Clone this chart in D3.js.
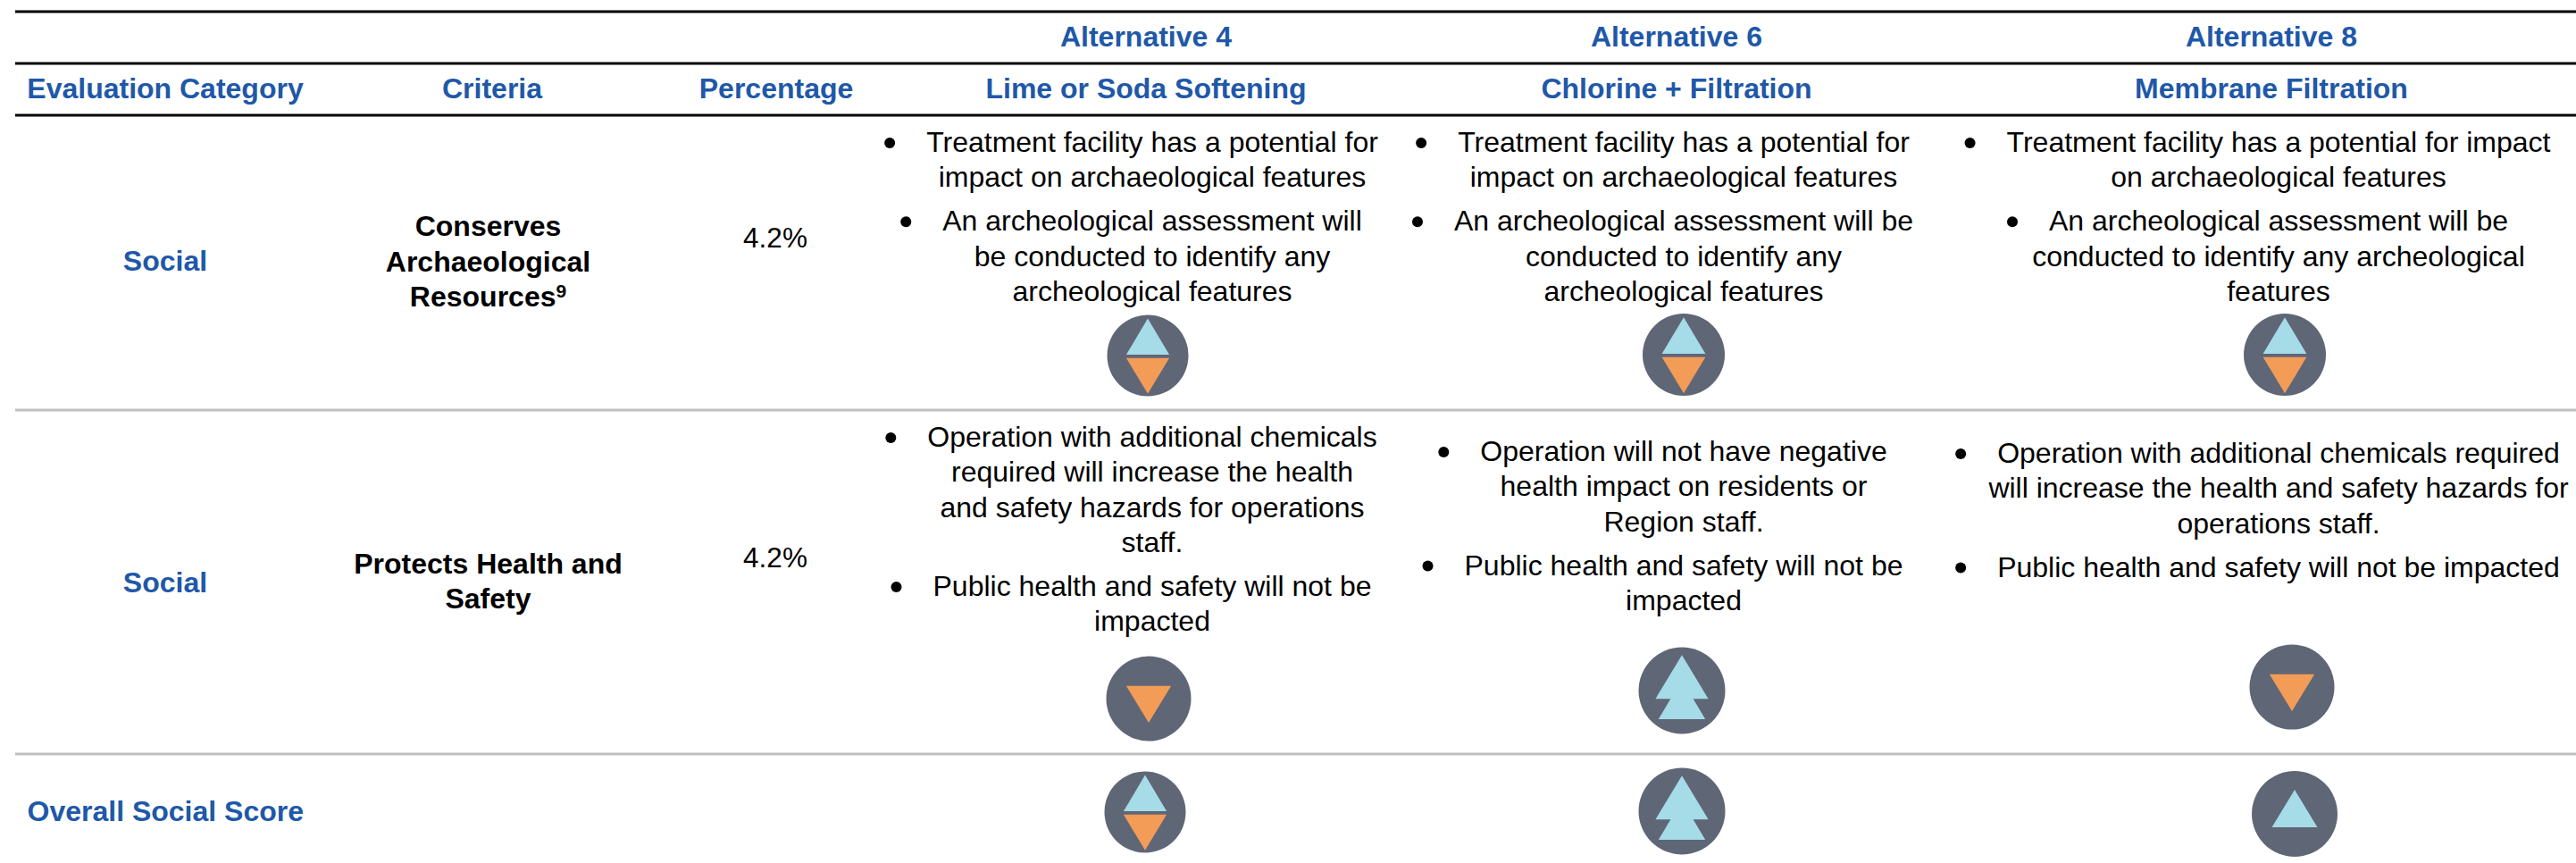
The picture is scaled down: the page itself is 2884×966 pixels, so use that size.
<!DOCTYPE html>
<html>
<head>
<meta charset="utf-8">
<title>Social evaluation table</title>
<script src="https://cdn.jsdelivr.net/npm/d3@7"></script>
<style>
  html, body { margin: 0; background: #fff; }
  svg { display: block; }
  text { font-family: "Liberation Sans", Arial, sans-serif; }
</style>
</head>
<body>
<div id="chart"></div>
<script>
// Table content
var alternatives = ["Alternative 4", "Alternative 6", "Alternative 8"];
var treatments = ["Lime or Soda Softening", "Chlorine + Filtration", "Membrane Filtration"];
var headers = ["Evaluation Category", "Criteria", "Percentage"];
var rows = ["archaeology", "health", "overall"];
var categories = ["Social", "Social"];
var criteria = [["Conserves", "Archaeological", "Resources"], ["Protects Health and", "Safety"]];
var percentages = ["4.2%", "4.2%"];
var overallLabel = "Overall Social Score";

// one list per cell, one list per bullet, one string per line
var archaeologyText = [
  [["Treatment facility has a potential for", "impact on archaeological features"],
   ["An archeological assessment will", "be conducted to identify any", "archeological features"]],
  [["Treatment facility has a potential for", "impact on archaeological features"],
   ["An archeological assessment will be", "conducted to identify any", "archeological features"]],
  [["Treatment facility has a potential for impact", "on archaeological features"],
   ["An archeological assessment will be", "conducted to identify any archeological", "features"]]
];
var healthText = [
  [["Operation with additional chemicals", "required will increase the health", "and safety hazards for operations", "staff."],
   ["Public health and safety will not be", "impacted"]],
  [["Operation will not have negative", "health impact on residents or", "Region staff."],
   ["Public health and safety will not be", "impacted"]],
  [["Operation with additional chemicals required", "will increase the health and safety hazards for", "operations staff."],
   ["Public health and safety will not be impacted"]]
];

// score per alternative: mixed, down, up, doubleUp
var archaeologyScores = ["mixed", "mixed", "mixed"];
var healthScores = ["down", "doubleUp", "down"];
var overallScores = ["mixed", "doubleUp", "up"];

// Layout
var width = 2884, height = 966;
var blue = "#2058a8", circleGrey = "#5f6676", lightBlue = "#a6dbe8", orange = "#f39c58";
var headerSize = 32, bodySize = 32, lineStep = 39.3, bulletGap = 9.7;

var headerX = d3.scaleOrdinal(headers, [185, 551, 869]);
var altX = d3.scaleOrdinal(alternatives, [1283, 1877, 2543]);
var bodyX = d3.scaleOrdinal(alternatives, [1290, 1885, 2551]);
var rowBaseline = d3.scaleOrdinal(["Social0", "Social1"], [303, 663]);
var percentBaseline = [277, 635];
var criteriaBaseline = [264, 642];
var criteriaStep = [39.5, 39];
var firstLine = d3.scaleOrdinal(rows.slice(0, 2), [[170, 170, 170], [500, 516, 518]]);

var iconX = d3.scaleOrdinal(rows, [[1285, 1885, 2558], [1286, 1883, 2566], [1282, 1883, 2569]]);
var iconY = d3.scaleOrdinal(rows, [[398, 397, 397], [782, 773, 769], [909, 908, 911]]);
var iconR = d3.scaleOrdinal(rows, [[45.5, 46, 46], [47.5, 48.5, 47.5], [45.5, 48.5, 48]]);

var svg = d3.select("#chart").append("svg")
  .attr("width", width)
  .attr("height", height);

// Rules
var rules = [
  {y: 13, color: "#000"}, {y: 71, color: "#000"}, {y: 129, color: "#000"},
  {y: 459, color: "#bfbfbf"}, {y: 844, color: "#bfbfbf"}
];
svg.selectAll("line.rule").data(rules).enter().append("line")
  .attr("class", "rule")
  .attr("x1", 17).attr("x2", width)
  .attr("y1", function(d) { return d.y; })
  .attr("y2", function(d) { return d.y; })
  .attr("stroke", function(d) { return d.color; })
  .attr("stroke-width", 3);

function label(x, y, str, opts) {
  opts = opts || {};
  return svg.append("text")
    .attr("x", x).attr("y", y)
    .attr("text-anchor", opts.anchor || "middle")
    .attr("font-size", opts.size || bodySize)
    .attr("font-weight", opts.bold ? "bold" : "normal")
    .attr("fill", opts.color || "#000")
    .text(str);
}

// Header rows
alternatives.forEach(function(a, i) {
  label(altX(a), 52, a, {bold: true, size: headerSize, color: blue});
  label(altX(a), 110, treatments[i], {bold: true, size: headerSize, color: blue});
});
headers.forEach(function(h) {
  label(headerX(h), 110, h, {bold: true, size: headerSize, color: blue});
});

// Left columns
categories.forEach(function(c, i) {
  label(headerX("Evaluation Category"), rowBaseline("Social" + i), c, {bold: true, size: headerSize, color: blue});
  label(headerX("Percentage") - 1, percentBaseline[i], percentages[i], {size: 31.5});
  criteria[i].forEach(function(line, j) {
    var t = label(546.5, criteriaBaseline[i] + j * criteriaStep[i], line, {bold: true, size: headerSize});
    if (i == 0 && j == 2) {
      t.append("tspan").attr("dy", -10).attr("font-size", 21).text("9");
    }
  });
});
label(30.5, 919, overallLabel, {bold: true, size: headerSize, color: blue, anchor: "start"});

// Body cells: centred lines, bullet sits left of the first line of each paragraph
function drawCell(paragraphs, cx, y) {
  paragraphs.forEach(function(lines, p) {
    lines.forEach(function(line, j) {
      var t = label(cx, y, line);
      if (j == 0) {
        var w = t.node().getComputedTextLength();
        svg.append("circle")
          .attr("cx", cx - w / 2 - 41)
          .attr("cy", y - 10)
          .attr("r", 6)
          .attr("fill", "#000");
      }
      y += lineStep;
    });
    y += bulletGap;
  });
}
alternatives.forEach(function(a, i) {
  drawCell(archaeologyText[i], bodyX(a), firstLine("archaeology")[i]);
  drawCell(healthText[i], bodyX(a), firstLine("health")[i]);
});

// Score icons, triangle shapes scaled to the circle radius
function tri(r, apex, base, half) {
  return d3.line()([[0, apex * r], [half * r, base * r], [-half * r, base * r]]) + "Z";
}
function glyphs(score, r) {
  if (score == "mixed") {
    return [
      {d: tri(r, -0.91, -0.02, 0.53), fill: lightBlue},
      {d: tri(r, 0.94, 0.06, 0.53), fill: orange}
    ];
  }
  if (score == "down") return [{d: tri(r, 0.57, -0.3, 0.53), fill: orange}];
  if (score == "up") return [{d: tri(r, -0.56, 0.31, 0.53), fill: lightBlue}];
  return [
    {d: tri(r, -0.82, 0.19, 0.61), fill: lightBlue},
    {d: tri(r, -0.25, 0.66, 0.54), fill: lightBlue}
  ];
}

rows.forEach(function(row, ri) {
  var scores = [archaeologyScores, healthScores, overallScores][ri];
  var icons = svg.selectAll("g.icon-" + row).data(scores).enter().append("g")
    .attr("class", "icon-" + row)
    .attr("transform", function(d, i) {
      return "translate(" + iconX(row)[i] + "," + iconY(row)[i] + ")";
    });
  icons.append("circle")
    .attr("r", function(d, i) { return iconR(row)[i]; })
    .attr("fill", circleGrey);
  icons.selectAll("path")
    .data(function(d, i) { return glyphs(d, iconR(row)[i]); })
    .enter().append("path")
    .attr("d", function(d) { return d.d; })
    .attr("fill", function(d) { return d.fill; });
});
</script>
</body>
</html>
